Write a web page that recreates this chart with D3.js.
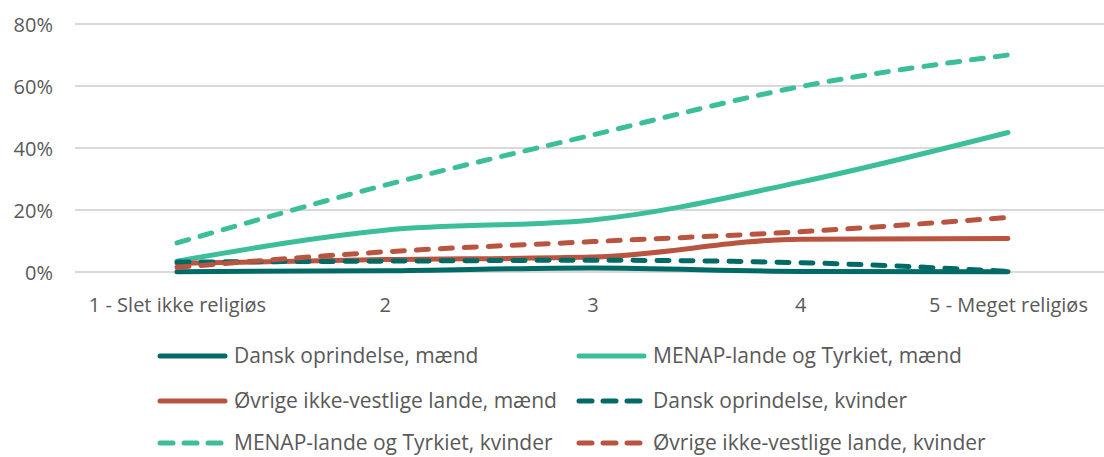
<!DOCTYPE html>
<html><head><meta charset="utf-8">
<script src="https://cdn.jsdelivr.net/npm/d3@7"></script>
<style>
body{margin:0;background:#fff;}
text{font-family:"Open Sans",sans-serif;fill:#595959;}
</style></head>
<body><svg id="c" width="1104" height="457"></svg>
<script>
const categories = ["1 - Slet ikke religiøs","2","3","4","5 - Meget religiøs"];
const yTicks = [0,0.2,0.4,0.6,0.8];
const seriesNames = ["Dansk oprindelse, mænd","MENAP-lande og Tyrkiet, mænd","Øvrige ikke-vestlige lande, mænd","Dansk oprindelse, kvinder","MENAP-lande og Tyrkiet, kvinder","Øvrige ikke-vestlige lande, kvinder"];
const danskMaend = [0.001,0.004,0.013,0.002,0.001];
const menapMaend = [0.035,0.135,0.168,0.29,0.45];
const ovrigeMaend = [0.028,0.04,0.048,0.106,0.108];
const danskKvinder = [0.032,0.035,0.038,0.03,0.002];
const menapKvinder = [0.094,0.28,0.442,0.598,0.70];
const ovrigeKvinder = [0.015,0.065,0.098,0.13,0.176];
const seriesValues = [danskMaend,menapMaend,ovrigeMaend,danskKvinder,menapKvinder,ovrigeKvinder];
const colors = ["#006B66","#3DBE9B","#B85440","#006B66","#3DBE9B","#B85440"];
const dashed = [false,false,false,true,true,true];

const svg = d3.select("#c");
const x = d3.scalePoint().domain(categories).range([177,1008]);
const y = d3.scaleLinear().domain([0,0.8]).range([272,24]);

svg.append("g").selectAll("line").data(yTicks).join("line")
  .attr("x1",75).attr("x2",1104).attr("y1",d=>y(d)).attr("y2",d=>y(d))
  .attr("stroke","#D9D9D9").attr("stroke-width",2);

const yAxis = svg.append("g").attr("transform","translate(53,0)")
  .call(d3.axisLeft(y).tickValues(yTicks).tickFormat(d3.format(".0%")).tickSize(0).tickPadding(0));
yAxis.select(".domain").remove();
yAxis.selectAll("text").attr("font-size",20).attr("fill","#595959").attr("dy","0.35em");

const xAxis = svg.append("g").attr("transform","translate(0,305)")
  .call(d3.axisBottom(x).tickSize(0).tickPadding(0));
xAxis.select(".domain").remove();
xAxis.selectAll("text").attr("font-size",20).attr("fill","#595959").attr("dy","0.35em").attr("y",0);

const line = d3.line().x((d,i)=>x(categories[i])).y(d=>y(d)).curve(d3.curveMonotoneX);
seriesValues.forEach((vals,k)=>{
  svg.append("path").attr("d",line(vals)).attr("fill","none")
    .attr("stroke",colors[k]).attr("stroke-width",5).attr("stroke-linecap","round")
    .attr("stroke-dasharray",dashed[k]?"12,12":null);
});

const legPos = [[157,356],[576,356],[157,401],[576,401],[157,443],[576,443]];
seriesNames.forEach((n,k)=>{
  const [lx,ly] = legPos[k];
  svg.append("line").attr("x1",lx+3).attr("x2",lx+68).attr("y1",ly).attr("y2",ly)
    .attr("stroke",colors[k]).attr("stroke-width",5).attr("stroke-linecap","round")
    .attr("stroke-dasharray",dashed[k]?"13,11":null);
  svg.append("text").attr("x",lx+77).attr("y",ly).attr("dy","0.35em").attr("font-size",21).text(n);
});
</script></body></html>
